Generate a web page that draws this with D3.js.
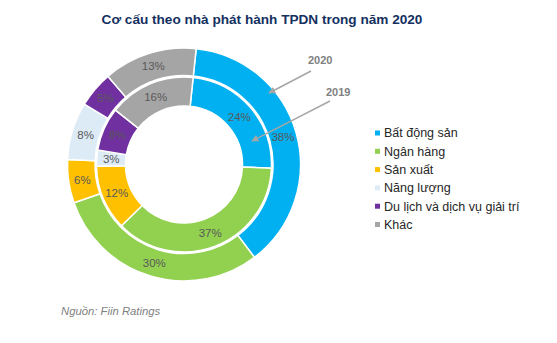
<html>
<head>
<meta charset="utf-8">
<title>Cơ cấu theo nhà phát hành TPDN</title>
<style>
  body { margin: 0; background: #fff; }
  text { font-family: "Liberation Sans", Arial, sans-serif; }
</style>
<script src="https://cdn.jsdelivr.net/npm/d3@7"></script>
</head>
<body>
<svg width="557" height="343"></svg>
<script>
var categories = ["Bất động sản", "Ngân hàng", "Sản xuất", "Năng lượng", "Du lịch và dịch vụ giải trí", "Khác"];
var values2020 = [38, 30, 6, 8, 5, 13];
var values2019 = [24, 37, 12, 3, 8, 16];
var colors = ["#00B0F0", "#92D050", "#FFC000", "#DDEBF7", "#7030A0", "#A5A5A5"];

var svg = d3.select("svg");
var cx = 184, cy = 164.5;
var g = svg.append("g").attr("transform", `translate(${cx},${cy})`);

var color = d3.scaleOrdinal().domain(categories).range(colors);

var pie = d3.pie()
    .sort(null)
    .startAngle(6 * Math.PI / 180)
    .endAngle(6 * Math.PI / 180 + 2 * Math.PI)
    .value(d => d.value);

function ring(values, r0, r1, cls) {
  var data = categories.map((c, i) => ({cat: c, value: values[i]}));
  var arc = d3.arc().innerRadius(r0).outerRadius(r1);
  var lab = d3.arc().innerRadius((r0 + r1) / 2).outerRadius((r0 + r1) / 2);
  var s = g.selectAll("." + cls).data(pie(data)).enter()
    .append("g").attr("class", cls);
  s.append("path")
    .attr("d", arc)
    .attr("fill", d => color(d.data.cat))
    .attr("stroke", "#fff")
    .attr("stroke-width", 1.5);
  s.append("text")
    .text(d => d.data.value + "%")
    .attr("transform", d => `translate(${lab.centroid(d)})`)
    .attr("text-anchor", "middle")
    .attr("dy", "0.35em")
    .style("font-size", "11.5px")
    .attr("fill", "#595959");
}

ring(values2020, 89, 116.5, "outer");
ring(values2019, 58.5, 87.5, "inner");

// title
svg.append("text")
  .attr("x", 262).attr("y", 24)
  .attr("text-anchor", "middle")
  .style("font-size", "13.6px").style("font-weight", "bold")
  .attr("fill", "#14305F")
  .text("Cơ cấu theo nhà phát hành TPDN trong năm 2020");

// arrows for years
var defs = svg.append("defs");
defs.append("marker").attr("id", "ah")
  .attr("viewBox", "0 0 10 10").attr("refX", 9).attr("refY", 5)
  .attr("markerWidth", 7).attr("markerHeight", 7)
  .attr("markerUnits", "userSpaceOnUse")
  .attr("orient", "auto")
  .append("path").attr("d", "M0,0L10,5L0,10z").attr("fill", "#A6A6A6");

var years = [
  {label: "2020", x: 308, y: 64, x1: 311, y1: 71, x2: 269, y2: 93},
  {label: "2019", x: 326, y: 96, x1: 330, y1: 101, x2: 252, y2: 141}
];
years.forEach(function(d) {
  svg.append("line")
    .attr("x1", d.x1).attr("y1", d.y1).attr("x2", d.x2).attr("y2", d.y2)
    .attr("stroke", "#A6A6A6").attr("stroke-width", 1.5)
    .attr("marker-end", "url(#ah)");
  svg.append("text")
    .attr("x", d.x).attr("y", d.y)
    .style("font-size", "11px").style("font-weight", "bold")
    .attr("fill", "#7F7F7F")
    .text(d.label);
});

// legend
var legend = svg.append("g").attr("transform", "translate(375,133)");
var item = legend.selectAll("g").data(categories).enter()
  .append("g").attr("transform", (d, i) => `translate(0,${i * 18.3})`);
item.append("rect")
  .attr("x", 0).attr("y", -2.5).attr("width", 5).attr("height", 5)
  .attr("fill", d => color(d));
item.append("text")
  .attr("x", 9).attr("dy", "0.35em")
  .style("font-size", "12.5px")
  .attr("fill", "#262626")
  .text(d => d);

// source
svg.append("text")
  .attr("x", 61).attr("y", 315)
  .style("font-size", "11.3px").style("font-style", "italic")
  .attr("fill", "#7F7F7F")
  .text("Nguồn: Fiin Ratings");
</script>
</body>
</html>
